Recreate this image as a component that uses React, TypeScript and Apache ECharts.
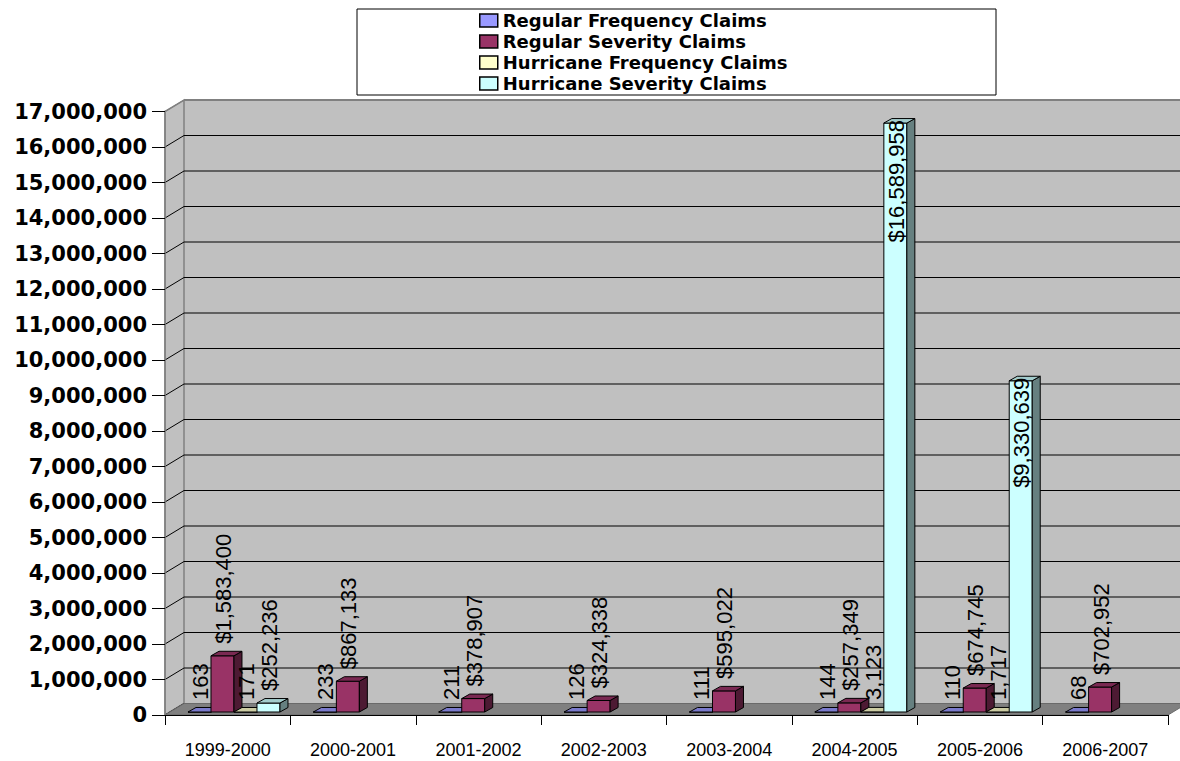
import { useEffect, useRef } from "react";
import * as echarts from "echarts";

// Claim figures per policy year
const categories = [
  "1999-2000",
  "2000-2001",
  "2001-2002",
  "2002-2003",
  "2003-2004",
  "2004-2005",
  "2005-2006",
  "2006-2007",
];
const regularFrequency = [163, 233, 211, 126, 111, 144, 110, 68];
const regularSeverity = [1583400, 867133, 378907, 324338, 595022, 257349, 674745, 702952];
const hurricaneFrequency = [171, null, null, null, null, 3123, 1717, null];
const hurricaneSeverity = [252236, null, null, null, null, 16589958, 9330639, null];

const seriesNames = [
  "Regular Frequency Claims",
  "Regular Severity Claims",
  "Hurricane Frequency Claims",
  "Hurricane Severity Claims",
];
const seriesValues = [regularFrequency, regularSeverity, hurricaneFrequency, hurricaneSeverity];
const seriesColors = ["#9999FF", "#993366", "#FFFFCC", "#CCFFFF"];
const currencySeries = [false, true, false, true];

// Value axis range
const Y_MAX = 17000000;
const Y_STEP = 1000000;
const yTicks = Array.from({ length: Y_MAX / Y_STEP + 1 }, (_, i) => i * Y_STEP);

// Pseudo-3D geometry (pixels)
const WALL_DX = 19;
const WALL_DY = -11.5;
const BAR_DX = 8;
const BAR_DY = -4.5;
const BAR_SINK = -3;
const BAR_START = 0.1834;
const BAR_WIDTH = 0.1834;

function shade(hex: string, f: number): string {
  const n = parseInt(hex.slice(1), 16);
  const r = Math.round(((n >> 16) & 255) * f);
  const g = Math.round(((n >> 8) & 255) * f);
  const b = Math.round((n & 255) * f);
  return `rgb(${r},${g},${b})`;
}

function formatValue(v: number, currency: boolean): string {
  const s = v.toLocaleString("en-US");
  return currency ? "$" + s : s;
}

function makeBarRenderer(s: number) {
  return (params: any, api: any) => {
    const idx = api.value(0);
    const v = api.value(1);
    const [cx, yBase] = api.coord([idx, 0]);
    const yTop = api.coord([idx, v])[1];
    const band = api.size([1, 0])[0];
    const w = band * BAR_WIDTH;
    const x0 = cx - band / 2 + band * (BAR_START + s * BAR_WIDTH);
    const b = yBase + BAR_SINK;
    const t = yTop + BAR_SINK;
    const color = seriesColors[s];
    const edge = { stroke: "#000", lineWidth: 1, lineJoin: "round" };
    const inside = v > Y_MAX / 2;
    return {
      type: "group",
      children: [
        {
          type: "rect",
          shape: { x: x0, y: t, width: w, height: b - t },
          style: { fill: color, ...edge },
          z2: 1,
        },
        {
          type: "polygon",
          shape: {
            points: [
              [x0 + w, b],
              [x0 + w + BAR_DX, b + BAR_DY],
              [x0 + w + BAR_DX, t + BAR_DY],
              [x0 + w, t],
            ],
          },
          style: { fill: shade(color, 0.5), ...edge },
          z2: 1,
        },
        {
          type: "polygon",
          shape: {
            points: [
              [x0, t],
              [x0 + w, t],
              [x0 + w + BAR_DX, t + BAR_DY],
              [x0 + BAR_DX, t + BAR_DY],
            ],
          },
          style: { fill: shade(color, 0.8), ...edge },
          z2: 1,
        },
        {
          type: "text",
          x: x0 + w / 2 + 1,
          y: inside ? t - 3 : t - 12,
          rotation: Math.PI / 2,
          style: {
            text: formatValue(v, currencySeries[s]),
            fill: "#000",
            fontSize: 22,
            fontFamily: '"Liberation Sans", Arial, sans-serif',
            align: inside ? "right" : "left",
            verticalAlign: "middle",
          },
          z2: 100,
        },
      ],
    };
  };
}

function renderWalls(params: any, api: any) {
  const cs = params.coordSys;
  const v = api.value(1);
  const y = api.coord([0, v])[1];
  const xL = cs.x;
  const xR = cs.x + cs.width;
  const yB = cs.y + cs.height;
  const children: any[] = [];
  if (params.dataIndex === 0) {
    children.push({
      type: "rect",
      shape: { x: xL + WALL_DX, y: cs.y + WALL_DY, width: cs.width + 60, height: cs.height },
      style: { fill: "#C0C0C0" },
      z2: 0,
    });
    children.push({
      type: "polygon",
      shape: {
        points: [
          [xL, yB],
          [xL, cs.y],
          [xL + WALL_DX, cs.y + WALL_DY],
          [xL + WALL_DX, yB + WALL_DY],
        ],
      },
      style: { fill: "#C0C0C0", stroke: "#808080", lineWidth: 1.5 },
      z2: 0,
    });
    children.push({
      type: "polygon",
      shape: {
        points: [
          [xL, yB],
          [xR, yB],
          [xR + WALL_DX, yB + WALL_DY],
          [xL + WALL_DX, yB + WALL_DY],
        ],
      },
      style: { fill: "#808080", stroke: "#6a6a6a", lineWidth: 1 },
      z2: 3,
    });
  }
  const isTop = v >= Y_MAX;
  const lineColor = isTop ? "#808080" : "#000";
  children.push({
    type: "line",
    shape: { x1: xL + WALL_DX, y1: y + WALL_DY, x2: xR + WALL_DX + 60, y2: y + WALL_DY },
    style: { stroke: lineColor, lineWidth: isTop ? 2 : 1 },
    z2: 2,
  });
  children.push({
    type: "line",
    shape: { x1: xL, y1: y, x2: xL + WALL_DX, y2: y + WALL_DY },
    style: { stroke: lineColor, lineWidth: 1 },
    z2: 2,
  });
  return { type: "group", children };
}

export default function App() {
  const ref = useRef<HTMLDivElement>(null);

  useEffect(() => {
    if (!ref.current) return;
    const chart = echarts.init(ref.current, undefined, { renderer: "svg" });

    const barSeries = seriesNames.map((name, s) => ({
      name,
      type: "custom",
      coordinateSystem: "cartesian2d",
      z: 2,
      clip: false,
      itemStyle: { color: seriesColors[s], borderColor: "#000", borderWidth: 1 },
      encode: { x: 0, y: 1 },
      data: seriesValues[s]
        .map((v, i) => (v == null ? null : [i, v]))
        .filter((d) => d != null),
      renderItem: makeBarRenderer(s),
    }));

    chart.setOption({
      animation: false,
      backgroundColor: "#fff",
      graphic: [
        {
          type: "rect",
          z: 0,
          shape: { x: 357, y: 9, width: 639, height: 86 },
          style: { fill: "#fff", stroke: "#000", lineWidth: 1 },
        },
      ],
      legend: {
        data: seriesNames,
        orient: "vertical",
        left: 479,
        top: 10,
        padding: 0,
        itemGap: 0,
        itemWidth: 18,
        itemHeight: 13,
        icon: "rect",
        selectedMode: false,
        itemStyle: { borderColor: "#000", borderWidth: 1.5 },
        textStyle: {
          fontFamily: '"DejaVu Sans", sans-serif',
          fontWeight: "bold",
          fontSize: 18,
          lineHeight: 21,
          color: "#000",
        },
      },
      grid: { left: 165, right: 12, top: 111.5, bottom: 46, containLabel: false },
      xAxis: {
        type: "category",
        data: categories,
        z: 3,
        boundaryGap: true,
        axisLine: { show: true, lineStyle: { color: "#000", width: 1 } },
        axisTick: { show: true, length: 10, alignWithLabel: false, lineStyle: { color: "#000" } },
        axisLabel: {
          margin: 26,
          fontSize: 18,
          fontFamily: '"Liberation Sans", Arial, sans-serif',
          color: "#000",
        },
        splitLine: { show: false },
      },
      yAxis: {
        type: "value",
        min: 0,
        max: Y_MAX,
        interval: Y_STEP,
        z: 3,
        axisLine: { show: true, lineStyle: { color: "#808080", width: 1.5 } },
        axisTick: { show: true, length: 13, lineStyle: { color: "#000" } },
        axisLabel: {
          margin: 18,
          fontSize: 21,
          fontWeight: "bold",
          fontFamily: '"DejaVu Sans", sans-serif',
          color: "#000",
          formatter: (v: number) => v.toLocaleString("en-US"),
        },
        splitLine: { show: false },
      },
      series: [
        {
          name: "walls",
          type: "custom",
          coordinateSystem: "cartesian2d",
          z: 1,
          silent: true,
          clip: false,
          encode: { x: 0, y: 1 },
          data: yTicks.map((t) => [0, t]),
          renderItem: renderWalls,
        },
        ...barSeries,
      ],
    });

    return () => chart.dispose();
  }, []);

  return (
    <div
      ref={ref}
      style={{ position: "absolute", left: 0, top: 0, width: 1180, height: 761, background: "#fff" }}
    />
  );
}
